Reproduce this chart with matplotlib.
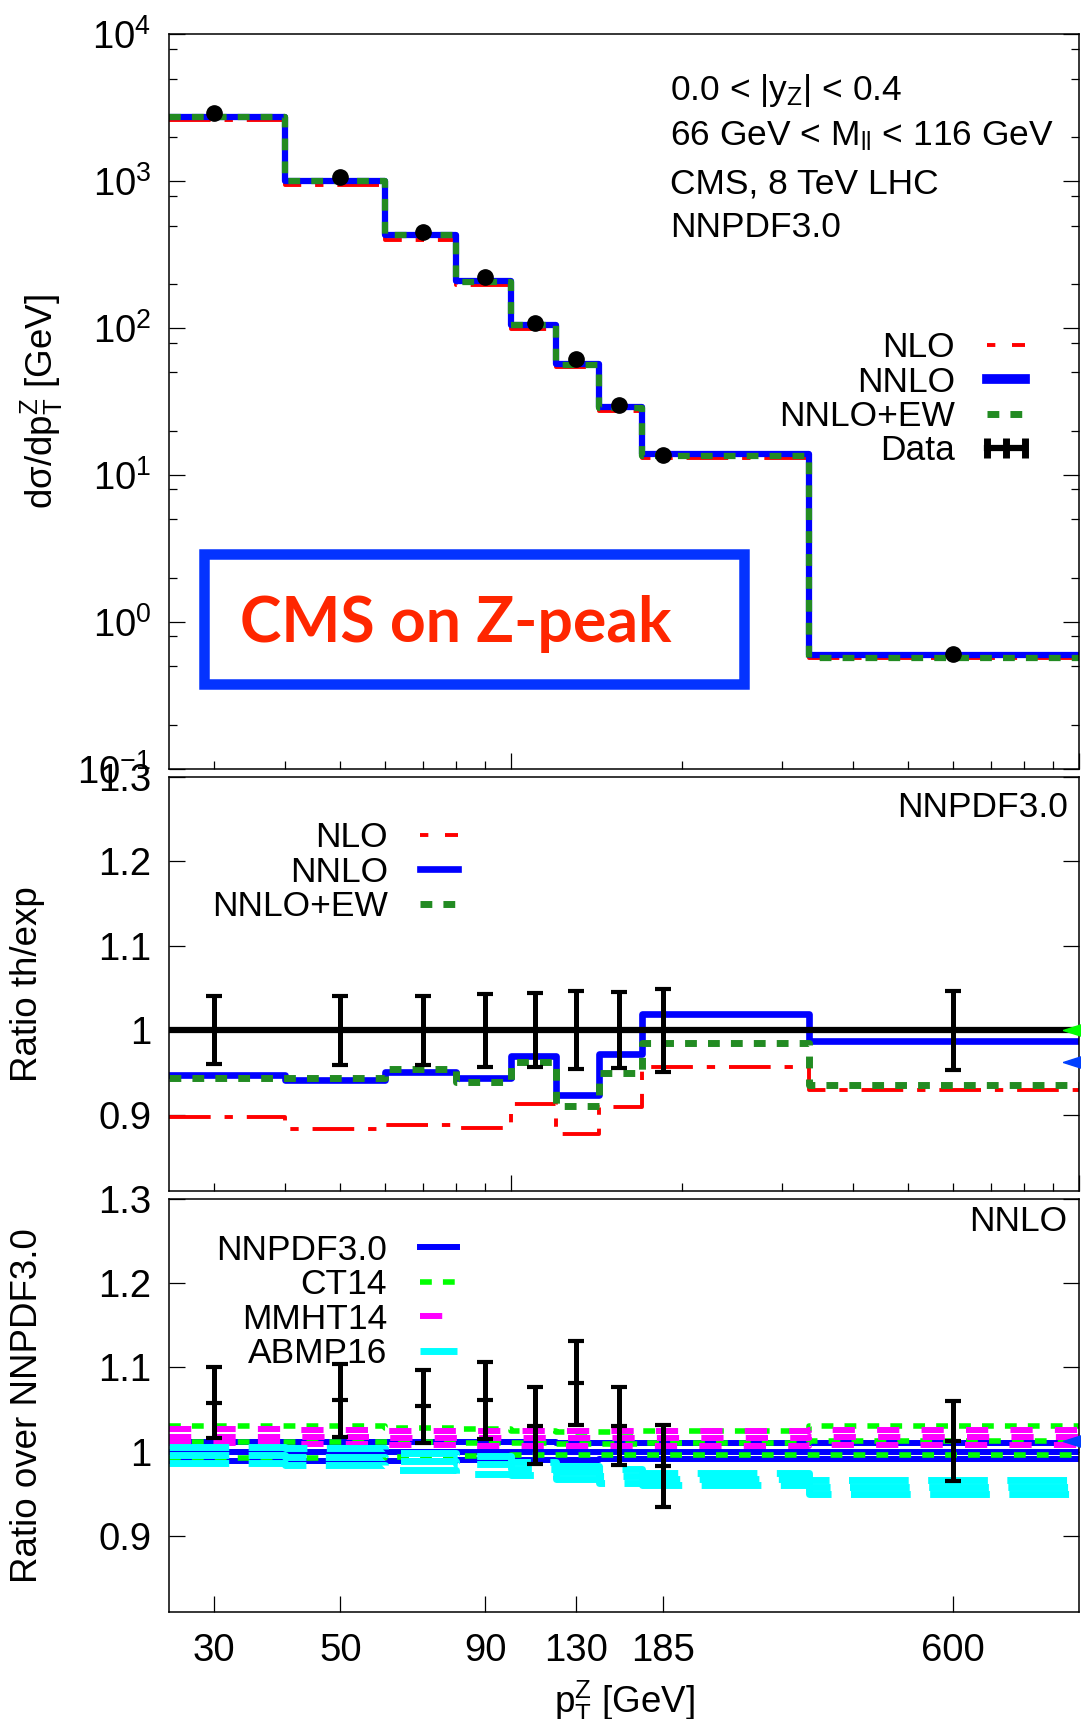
import matplotlib
matplotlib.use('Agg')
import matplotlib.pyplot as plt
import matplotlib.patheffects as pe
from matplotlib.lines import Line2D
from matplotlib.patches import Rectangle
from matplotlib.ticker import LogLocator, NullFormatter, NullLocator, LogFormatterMathtext

plt.rcParams['font.family'] = ['Liberation Sans', 'DejaVu Sans']
plt.rcParams['mathtext.fontset'] = 'custom'
plt.rcParams['mathtext.rm'] = 'Liberation Sans'
plt.rcParams['mathtext.it'] = 'Liberation Sans:italic'
plt.rcParams['mathtext.bf'] = 'Liberation Sans:bold'
plt.rcParams['lines.scale_dashes'] = False
plt.rcParams['axes.linewidth'] = 1.1

FS = 25.5       # labels, keys, annotations
FS_TICK = 27.5  # tick labels
FS_LAB = 26.5   # axis titles

# CMS 8 TeV, 0.0 < |y_Z| < 0.4 : bin edges and bin centres (GeV)
edges = [25, 40, 60, 80, 100, 120, 142.5, 170, 335, 1000]
pt = [30, 50, 70, 90, 110, 130, 155, 185, 600]
pt_ticks = [30, 50, 90, 130, 185, 600]

# dsigma/dpT
data_xs = [2900, 1070, 450, 222, 109, 62, 30, 13.7, 0.61]
err_rel = [0.040, 0.041, 0.041, 0.043, 0.044, 0.046, 0.045, 0.049, 0.047]
nlo_xs = [2600, 945, 400, 196, 99.5, 54.4, 27.3, 13.1, 0.567]
nnlo_xs = [2745, 1007, 428, 209, 105.7, 57.2, 29.2, 13.96, 0.602]
ew_xs = [2735, 1009, 429, 208, 104.9, 56.5, 28.5, 13.5, 0.570]

# theory / data
nlo_r = [0.897, 0.883, 0.888, 0.884, 0.913, 0.877, 0.909, 0.957, 0.929]
nnlo_r = [0.947, 0.941, 0.951, 0.943, 0.970, 0.923, 0.972, 1.019, 0.987]
ew_r = [0.943, 0.943, 0.954, 0.939, 0.962, 0.911, 0.949, 0.985, 0.935]

# ratio over NNPDF3.0 (NNLO): data, and upper / central / lower PDF predictions
data_r = [1.058, 1.061, 1.054, 1.061, 1.031, 1.082, 1.031, 0.983, 1.013]
nnpdf_hi = [1.012, 1.012, 1.011, 1.011, 1.011, 1.010, 1.010, 1.010, 1.010]
nnpdf_c = [1.0, 1.0, 1.0, 1.0, 1.0, 1.0, 1.0, 1.0, 1.0]
nnpdf_lo = [0.989, 0.989, 0.989, 0.990, 0.990, 0.990, 0.991, 0.991, 0.991]
ct14_hi = [1.031, 1.030, 1.028, 1.027, 1.025, 1.023, 1.023, 1.024, 1.030]
ct14_c = [1.012, 1.012, 1.011, 1.010, 1.010, 1.009, 1.009, 1.010, 1.013]
ct14_lo = [0.993, 0.993, 0.994, 0.995, 0.996, 0.996, 0.996, 0.996, 0.996]
mmht_hi = [1.027, 1.026, 1.025, 1.024, 1.024, 1.024, 1.025, 1.025, 1.026]
mmht_c = [1.018, 1.017, 1.016, 1.016, 1.016, 1.016, 1.016, 1.016, 1.017]
mmht_lo = [1.010, 1.009, 1.008, 1.007, 1.007, 1.007, 1.007, 1.007, 1.008]
abmp_hi = [1.006, 1.004, 0.999, 0.995, 0.988, 0.983, 0.979, 0.975, 0.966]
abmp_c = [0.996, 0.994, 0.989, 0.985, 0.980, 0.976, 0.971, 0.968, 0.958]
abmp_lo = [0.986, 0.984, 0.978, 0.974, 0.972, 0.968, 0.963, 0.960, 0.950]

# arrows sticking in from the right-hand edge
tri_mid = [1.0, 0.9625]
tri_mid_col = ['#00ff00', '#0040ff']
tri_bot = [1.013]
tri_bot_col = ['#0040ff']

RED, BLUE, FGREEN = '#ff0000', '#0000ff', '#228b22'
dash_nlo = (30, 10, 6, 10)
dash_nlo_key = (0, (6, 12, 60, 10))
dash_ew = (8.5, 8)


def steps(ax, vals, **kw):
    return ax.step(edges, list(vals) + [vals[-1]], where='post', **kw)


def frame(ax):
    ax.set_xscale('log')
    ax.set_xlim(edges[0], edges[-1])
    ax.tick_params(which='both', direction='in', top=False, right=True,
                   labelsize=FS_TICK, pad=13)
    ax.tick_params(which='major', length=11.5, width=0.9)
    ax.tick_params(which='minor', length=5.5, width=0.9)


def key(ax, handles, labels, anchor):
    return ax.legend(handles, labels, loc='upper right', bbox_to_anchor=anchor,
                     frameon=False, markerfirst=False, fontsize=FS,
                     handlelength=1.67, handletextpad=0.62, labelspacing=0.04,
                     borderpad=0, borderaxespad=0, numpoints=3)


fig = plt.figure(figsize=(10.81, 17.19), dpi=100)
ax1 = fig.add_axes([0.1566, 0.5526, 0.8418, 0.4274])
ax2 = fig.add_axes([0.1566, 0.3072, 0.8418, 0.2410])
ax3 = fig.add_axes([0.1566, 0.0624, 0.8418, 0.2401])
for ax in (ax1, ax2, ax3):
    frame(ax)

# ---- top panel: cross section
steps(ax1, nlo_xs, color=RED, lw=2.8, linestyle=(0, dash_nlo))
steps(ax1, nnlo_xs, color=BLUE, lw=4.5)
steps(ax1, ew_xs, color=FGREEN, lw=4.5, linestyle=(0, dash_ew))
ax1.errorbar(pt, data_xs, yerr=[d * e for d, e in zip(data_xs, err_rel)],
             fmt='o', color='k', ms=11, elinewidth=2, capsize=4, capthick=2, zorder=5)
ax1.set_yscale('log')
ax1.set_ylim(0.1, 1e4)
ax1.yaxis.set_major_locator(LogLocator(base=10))
ax1.yaxis.set_major_formatter(LogFormatterMathtext())
ax1.yaxis.set_minor_locator(LogLocator(base=10, subs=(2, 5, 8)))
ax1.yaxis.set_minor_formatter(NullFormatter())
ax1.xaxis.set_major_formatter(NullFormatter())
ax1.xaxis.set_minor_formatter(NullFormatter())
ax1.set_ylabel('dσ/d$\\mathrm{p}_\\mathrm{T}^\\mathrm{Z}$ [GeV]', fontsize=FS_LAB, va='center')
ax1.yaxis.set_label_coords(-0.140, 0.5)

info = ['0.0 < |y$_\\mathrm{Z}$| < 0.4',
        '66 GeV < M$_\\mathrm{ll}$ < 116 GeV',
        'CMS, 8 TeV LHC',
        'NNPDF3.0']
for txt, yb in zip(info, [0.9106, 0.8493, 0.784, 0.724]):
    ax1.text(0.55, yb, txt, transform=ax1.transAxes, fontsize=FS, va='baseline')

h_top = [Line2D([], [], color=RED, lw=2.8, linestyle=dash_nlo_key),
         Line2D([], [], color=BLUE, lw=7),
         Line2D([], [], color=FGREEN, lw=5, linestyle=(0, dash_ew)),
         Line2D([], [], color='k', lw=4.5, marker='|', ms=14, mew=5)]
key(ax1, h_top, ['NLO', 'NNLO', 'NNLO+EW', 'Data'], (0.9524, 0.596))

# ---- middle panel: theory / data
ax2.axhline(1.0, color='k', lw=4.5, zorder=3)
steps(ax2, nlo_r, color=RED, lw=2.8, linestyle=(0, dash_nlo))
steps(ax2, nnlo_r, color=BLUE, lw=4.8)
steps(ax2, ew_r, color=FGREEN, lw=5, linestyle=(0, dash_ew))
ax2.errorbar(pt, [1.0] * len(pt), yerr=err_rel, fmt='none', ecolor='k',
             elinewidth=3.6, capsize=6, capthick=3, zorder=4)
ax2.set_ylim(0.81, 1.3)
ax2.set_yticks([0.9, 1.0, 1.1, 1.2, 1.3], labels=['0.9', '1', '1.1', '1.2', '1.3'])
ax2.xaxis.set_major_formatter(NullFormatter())
ax2.xaxis.set_minor_formatter(NullFormatter())
ax2.set_ylabel('Ratio th/exp', fontsize=FS_LAB, va='center')
ax2.yaxis.set_label_coords(-0.1558, 0.5)
ax2.text(0.9871, 0.9245, 'NNPDF3.0', transform=ax2.transAxes, fontsize=FS,
         ha='right', va='center')
h_mid = [Line2D([], [], color=RED, lw=2.8, linestyle=dash_nlo_key),
         Line2D([], [], color=BLUE, lw=4.8),
         Line2D([], [], color=FGREEN, lw=5, linestyle=(0, dash_ew))]
key(ax2, h_mid, ['NLO', 'NNLO', 'NNLO+EW'], (0.3293, 0.892))

tri = [(-1, 0), (1, 0.64), (1, -0.64), (-1, 0)]
for y, c in zip(tri_mid, tri_mid_col):
    ax2.plot([1.0019], [y], transform=ax2.get_yaxis_transform(), marker=tri,
             ms=26, color=c, mec=c, linestyle='none', clip_on=False, zorder=6)

# ---- bottom panel: ratio over NNPDF3.0
pdf_sets = [('NNPDF3.0', (nnpdf_hi, nnpdf_c, nnpdf_lo), dict(color=BLUE, lw=4.3)),
            ('CT14', (ct14_hi, ct14_c, ct14_lo),
             dict(color='#00ff00', lw=4, linestyle=(0, (8.5, 8)))),
            ('MMHT14', (mmht_hi, mmht_c, mmht_lo),
             dict(color='#ff00ff', lw=4.3, linestyle=(0, (16, 16)))),
            ('ABMP16', (abmp_hi, abmp_c, abmp_lo),
             dict(color='#00ffff', lw=5, linestyle=(0, (43, 14))))]
for name, curves, style in pdf_sets:
    for vals in curves:
        steps(ax3, vals, **style)
ax3.errorbar(pt, data_r, yerr=[d * e for d, e in zip(data_r, err_rel)],
             fmt='_', color='k', ms=12, mew=3, elinewidth=3.6, capsize=6,
             capthick=3, zorder=5)
ax3.set_ylim(0.81, 1.3)
ax3.set_yticks([0.9, 1.0, 1.1, 1.2, 1.3], labels=['0.9', '1', '1.1', '1.2', '1.3'])
ax3.set_xticks(pt_ticks, labels=[str(v) for v in pt_ticks])
ax3.xaxis.set_minor_locator(NullLocator())
ax3.tick_params(axis='x', pad=15)
ax3.set_ylabel('Ratio over NNPDF3.0', fontsize=FS_LAB, va='center')
ax3.yaxis.set_label_coords(-0.1558, 0.5)
ax3.set_xlabel('$\\mathrm{p}_\\mathrm{T}^\\mathrm{Z}$ [GeV]', fontsize=FS_LAB, va='baseline')
ax3.xaxis.set_label_coords(0.5, -0.2455)
ax3.text(0.9871, 0.9467, 'NNLO', transform=ax3.transAxes, fontsize=FS,
         ha='right', va='center')
h_bot = [Line2D([], [], **s) for _, _, s in pdf_sets]
leg3 = key(ax3, h_bot, [p[0] for p in pdf_sets], (0.3283, 0.916))
leg3.set_zorder(1)
for y, c in zip(tri_bot, tri_bot_col):
    ax3.plot([1.0019], [y], transform=ax3.get_yaxis_transform(), marker=tri,
             ms=26, color=c, mec=c, linestyle='none', clip_on=False, zorder=6)

# ---- highlight box over the top panel
box = Rectangle((0.18895, 0.60224), 0.49907, 0.07534, transform=fig.transFigure,
                facecolor='white', edgecolor='#0433ff', lw=7.56, joinstyle='miter',
                zorder=10,
                path_effects=[pe.SimplePatchShadow(offset=(2, -2), alpha=0.25), pe.Normal()])
fig.add_artist(box)
fig.text(0.222, 0.6267, 'CMS on Z-peak', color='#ff2600', fontsize=45,
         fontweight='bold', family='Lato', va='baseline', zorder=11)

fig.savefig('out.png', dpi=100)
